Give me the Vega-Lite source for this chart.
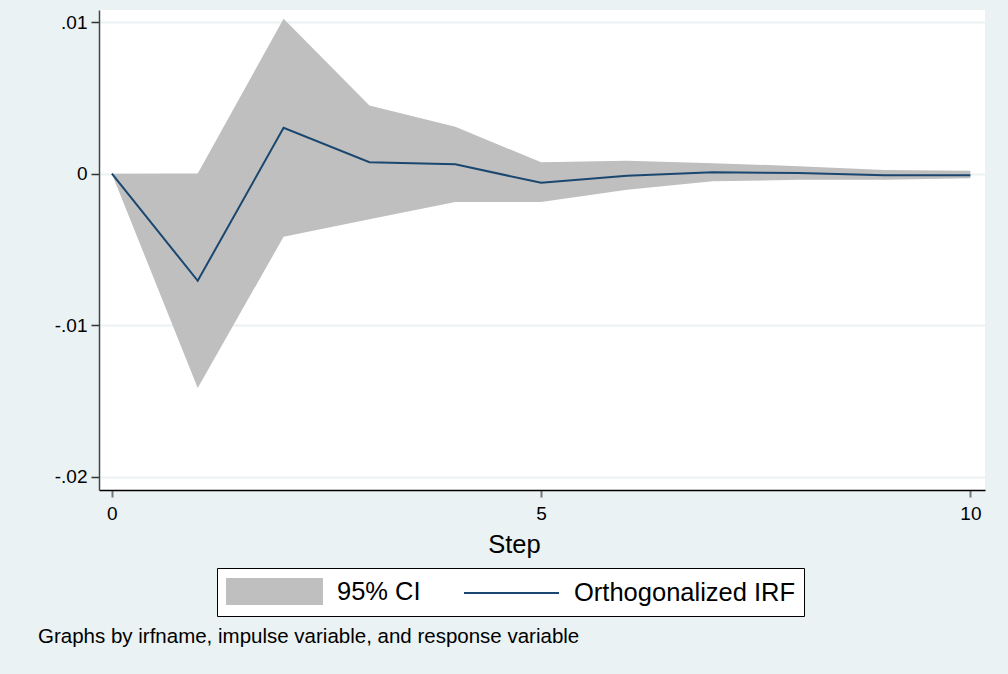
{
  "$schema": "https://vega.github.io/schema/vega-lite/v6.json",
  "autosize": {"type": "none"},
  "width": 886,
  "height": 480,
  "padding": {"left": 99, "top": 10, "right": 23, "bottom": 184},
  "background": "#EAF2F3",
  "title": {
    "text": "Graphs by irfname, impulse variable, and response variable",
    "orient": "bottom",
    "anchor": "start",
    "frame": "group",
    "font": "Liberation Sans",
    "fontSize": 20.5,
    "fontWeight": "normal",
    "color": "#000000",
    "dx": -61,
    "offset": 10
  },
  "config": {
    "view": {"fill": "#FFFFFF", "stroke": null},
    "font": "Liberation Sans"
  },
  "data": {
    "values": [
      {"step": 0, "lower": 0, "irf": 0, "upper": 0},
      {"step": 1, "lower": -0.01413, "irf": -0.00706, "upper": 0.00002},
      {"step": 2, "lower": -0.00416, "irf": 0.00303, "upper": 0.01022},
      {"step": 3, "lower": -0.0030, "irf": 0.00076, "upper": 0.00450},
      {"step": 4, "lower": -0.00187, "irf": 0.00062, "upper": 0.0031},
      {"step": 5, "lower": -0.00187, "irf": -0.00060, "upper": 0.00075},
      {"step": 6, "lower": -0.00106, "irf": -0.00013, "upper": 0.00086},
      {"step": 7, "lower": -0.0005, "irf": 0.0001, "upper": 0.0007},
      {"step": 8, "lower": -0.0004, "irf": 0.00005, "upper": 0.0005},
      {"step": 9, "lower": -0.0004, "irf": -0.0001, "upper": 0.00025},
      {"step": 10, "lower": -0.0003, "irf": -0.0001, "upper": 0.0002}
    ]
  },
  "encoding": {
    "x": {
      "field": "step",
      "type": "quantitative",
      "scale": {"domain": [-0.15, 10.17], "nice": false, "zero": false},
      "axis": {
        "title": "Step",
        "values": [0, 5, 10],
        "grid": false,
        "labelFont": "Liberation Sans",
        "labelFontSize": 19,
        "labelColor": "#000000",
        "labelPadding": 7,
        "tickSize": 7,
        "tickColor": "#777777",
        "tickWidth": 2,
        "domainColor": "#000000",
        "domainWidth": 1.5,
        "titleFont": "Liberation Sans",
        "titleFontSize": 25.5,
        "titleFontWeight": "normal",
        "titleColor": "#000000",
        "titleX": 415,
        "titleY": 62,
        "titleAlign": "center",
        "titleBaseline": "alphabetic"
      }
    }
  },
  "layer": [
    {
      "mark": {"type": "area", "opacity": 1},
      "encoding": {
        "y": {
          "field": "lower",
          "type": "quantitative",
          "scale": {"domain": [-0.02086, 0.0108], "nice": false, "zero": false},
          "axis": {
            "title": null,
            "values": [0.01, 0, -0.01, -0.02],
            "labelExpr": "datum.value > 0.005 ? '.01' : datum.value > -0.005 ? '0' : datum.value > -0.015 ? '-.01' : '-.02'",
            "labelFont": "Liberation Sans",
            "labelFontSize": 19,
            "labelColor": "#000000",
            "labelPadding": 4,
            "tickSize": 8,
            "tickColor": "#333333",
            "tickWidth": 1.5,
            "domainColor": "#444444",
            "domainWidth": 1.5,
            "grid": true,
            "gridColor": "#EAF2F3",
            "gridWidth": 2
          }
        },
        "y2": {"field": "upper"},
        "color": {
          "datum": "95% CI",
          "type": "nominal",
          "scale": {"domain": ["95% CI", "Orthogonalized IRF"], "range": ["#BFBFBF", "#1A476F"]},
          "legend": {
            "title": null,
            "orient": "none",
            "legendX": 118,
            "legendY": 558,
            "direction": "horizontal",
            "strokeColor": "#000000",
            "fillColor": "#FFFFFF",
            "padding": 8,
            "labelFont": "Liberation Sans",
            "labelFontSize": 25.5,
            "labelColor": "#000000",
            "labelLimit": 0,
            "labelOffset": 15,
            "columnPadding": 39,
            "symbolSize": 625,
            "symbolType": "M-1,-0.263L1,-0.263L1,0.263L-1,0.263Z",
            "encode": {
              "symbols": {
                "update": {
                  "shape": [{"test": "datum.index === 0", "value": "M-1,-0.263L1,-0.263L1,0.263L-1,0.263Z"}, {"value": "stroke"}],
                  "size": {"value": 9025},
                  "x": {"value": 49.5},
                  "y": {"value": 15.5},
                  "fill": [{"test": "datum.index === 0", "value": "#BFBFBF"}, {"value": "transparent"}],
                  "stroke": [{"test": "datum.index === 0", "value": "transparent"}, {"value": "#1A476F"}],
                  "strokeWidth": {"value": 2},
                  "opacity": {"value": 1}
                }
              },
              "labels": {
                "update": {
                  "x": {"value": 112},
                  "y": {"value": 15.5}
                }
              }
            }
          }
        }
      }
    },
    {
      "mark": {"type": "line", "strokeWidth": 2},
      "encoding": {
        "y": {"field": "irf", "type": "quantitative"},
        "color": {
          "datum": "Orthogonalized IRF",
          "type": "nominal",
          "legend": {
            "title": null,
            "orient": "none",
            "legendX": 118,
            "legendY": 558,
            "direction": "horizontal",
            "strokeColor": "#000000",
            "fillColor": "#FFFFFF",
            "padding": 8,
            "labelFont": "Liberation Sans",
            "labelFontSize": 25.5,
            "labelColor": "#000000",
            "labelLimit": 0,
            "labelOffset": 15,
            "columnPadding": 39,
            "symbolSize": 625,
            "symbolType": "M-1,-0.263L1,-0.263L1,0.263L-1,0.263Z",
            "encode": {
              "symbols": {
                "update": {
                  "shape": [{"test": "datum.index === 0", "value": "M-1,-0.263L1,-0.263L1,0.263L-1,0.263Z"}, {"value": "stroke"}],
                  "size": {"value": 9025},
                  "x": {"value": 49.5},
                  "y": {"value": 15.5},
                  "fill": [{"test": "datum.index === 0", "value": "#BFBFBF"}, {"value": "transparent"}],
                  "stroke": [{"test": "datum.index === 0", "value": "transparent"}, {"value": "#1A476F"}],
                  "strokeWidth": {"value": 2},
                  "opacity": {"value": 1}
                }
              },
              "labels": {
                "update": {
                  "x": {"value": 112},
                  "y": {"value": 15.5}
                }
              }
            }
          }
        }
      }
    }
  ]
}
